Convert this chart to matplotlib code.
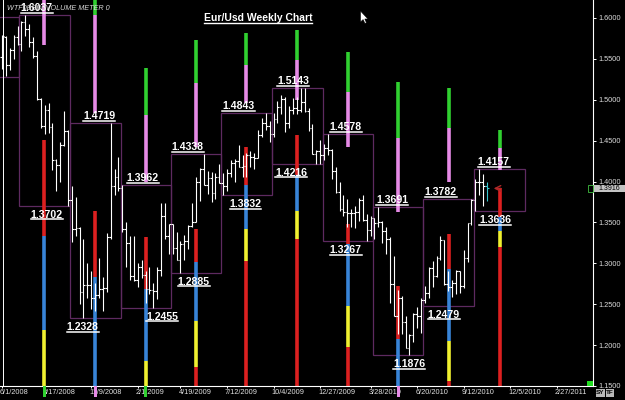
import matplotlib
matplotlib.use("Agg")
import matplotlib.pyplot as plt
import matplotlib.transforms as mtransforms
from matplotlib.collections import LineCollection
from matplotlib.lines import Line2D
from matplotlib.patches import Rectangle, Polygon
import numpy as np
import pandas as pd

# ---------------- data ----------------
first_week = "2008-06-01"

bar_open = [1.5525, 1.5770, 1.5420, 1.5610, 1.5770, 1.5680, 1.5950, 1.5860, 1.5700, 1.5540,
            1.5010, 1.4680, 1.4880, 1.4670, 1.4260, 1.4200, 1.4450, 1.4620, 1.3770, 1.3420,
            1.3430, 1.2650, 1.2730, 1.2740, 1.2580, 1.2610, 1.2690, 1.2700, 1.3320, 1.3950,
            1.4060, 1.3920, 1.3420, 1.3250, 1.2840, 1.2800, 1.2950, 1.2860, 1.2680, 1.2670,
            1.2660, 1.2920, 1.3580, 1.3330, 1.3480, 1.3190, 1.3040, 1.3240, 1.3270, 1.3460,
            1.3500, 1.4000, 1.4150, 1.3960, 1.4040, 1.3860, 1.4060, 1.3980, 1.3950, 1.4110,
            1.4230, 1.4250, 1.4180, 1.4190, 1.4330, 1.4300, 1.4290, 1.4570, 1.4710, 1.4680,
            1.4580, 1.4760, 1.4910, 1.5010, 1.4710, 1.4870, 1.4900, 1.4880, 1.4970, 1.4860,
            1.4650, 1.4340, 1.4370, 1.4320, 1.4410, 1.4380, 1.4130, 1.3870, 1.3670, 1.3630,
            1.3610, 1.3620, 1.3630, 1.3770, 1.3530, 1.3410, 1.3550, 1.3490, 1.3500, 1.3390,
            1.3300, 1.2750, 1.2360, 1.2570, 1.2280, 1.1960, 1.2120, 1.2380, 1.2360, 1.2550,
            1.2640, 1.2940, 1.2840, 1.3060, 1.3280, 1.2750, 1.2710, 1.2760, 1.2900, 1.2720,
            1.3060, 1.3490, 1.3780, 1.3990, 1.3990, 1.3950]
bar_high = [1.5790, 1.5780, 1.5630, 1.5790, 1.5900, 1.5960, 1.6037, 1.5920, 1.5770, 1.5590,
            1.5020, 1.4940, 1.4960, 1.4720, 1.4280, 1.4480, 1.4865, 1.4630, 1.3940, 1.3810,
            1.3450, 1.3300, 1.3000, 1.2900, 1.2760, 1.3070, 1.2830, 1.3370, 1.4719, 1.4150,
            1.4300, 1.3962, 1.3500, 1.3330, 1.3330, 1.3000, 1.3040, 1.2900, 1.2950, 1.2760,
            1.2950, 1.3740, 1.3740, 1.3480, 1.3480, 1.3380, 1.3270, 1.3350, 1.3470, 1.3740,
            1.4050, 1.4160, 1.4338, 1.4130, 1.4120, 1.4100, 1.4220, 1.4100, 1.4150, 1.4260,
            1.4280, 1.4450, 1.4330, 1.4350, 1.4370, 1.4350, 1.4630, 1.4780, 1.4843, 1.4740,
            1.4840, 1.4990, 1.5060, 1.5030, 1.4920, 1.5020, 1.5030, 1.5143, 1.5140, 1.4900,
            1.4700, 1.4390, 1.4510, 1.4458, 1.4578, 1.4400, 1.4180, 1.4000, 1.3830, 1.3790,
            1.3670, 1.3700, 1.3800, 1.3840, 1.3600, 1.3580, 1.3560, 1.3691, 1.3520, 1.3440,
            1.3320, 1.3090, 1.2670, 1.2600, 1.2350, 1.2140, 1.2390, 1.2470, 1.2570, 1.2720,
            1.2950, 1.3030, 1.3090, 1.3330, 1.3290, 1.2910, 1.2800, 1.2920, 1.2900, 1.3160,
            1.3490, 1.3782, 1.4030, 1.4157, 1.4090, 1.4000]
bar_low = [1.5370, 1.5290, 1.5360, 1.5500, 1.5670, 1.5600, 1.5780, 1.5640, 1.5510, 1.5000,
           1.4660, 1.4580, 1.4590, 1.4140, 1.3880, 1.4000, 1.4430, 1.3702, 1.3260, 1.3330,
           1.2500, 1.2328, 1.2580, 1.2440, 1.2420, 1.2580, 1.2420, 1.2650, 1.3300, 1.3830,
           1.3880, 1.3380, 1.2950, 1.2790, 1.2780, 1.2710, 1.2820, 1.2510, 1.2620, 1.2455,
           1.2560, 1.2850, 1.3300, 1.3110, 1.3120, 1.3040, 1.2885, 1.3040, 1.3180, 1.3450,
           1.3500, 1.3760, 1.3960, 1.3850, 1.3750, 1.3790, 1.3980, 1.3832, 1.3880, 1.4050,
           1.3990, 1.4180, 1.4050, 1.4050, 1.4180, 1.4150, 1.4290, 1.4550, 1.4630, 1.4480,
           1.4540, 1.4710, 1.4820, 1.4600, 1.4650, 1.4830, 1.4830, 1.4850, 1.4850, 1.4620,
           1.4340, 1.4220, 1.4216, 1.4260, 1.4330, 1.4030, 1.3860, 1.3640, 1.3580, 1.3440,
           1.3440, 1.3430, 1.3520, 1.3520, 1.3267, 1.3340, 1.3300, 1.3440, 1.3250, 1.3110,
           1.2520, 1.2350, 1.2140, 1.2140, 1.1960, 1.1876, 1.2040, 1.2210, 1.2150, 1.2520,
           1.2570, 1.2710, 1.2830, 1.3040, 1.2730, 1.2660, 1.2590, 1.2620, 1.2640, 1.2700,
           1.3020, 1.3470, 1.3636, 1.3830, 1.3700, 1.3760]
bar_close = [1.5775, 1.5420, 1.5610, 1.5770, 1.5680, 1.5950, 1.5860, 1.5700, 1.5540, 1.5010,
             1.4680, 1.4880, 1.4670, 1.4260, 1.4200, 1.4450, 1.4620, 1.3770, 1.3420, 1.3430,
             1.2650, 1.2730, 1.2740, 1.2580, 1.2610, 1.2690, 1.2700, 1.3320, 1.3950, 1.4060,
             1.3920, 1.3420, 1.3250, 1.2840, 1.2800, 1.2950, 1.2860, 1.2680, 1.2670, 1.2660,
             1.2920, 1.3580, 1.3330, 1.3480, 1.3190, 1.3040, 1.3240, 1.3270, 1.3460, 1.3500,
             1.4000, 1.4150, 1.3960, 1.4040, 1.3860, 1.4060, 1.3980, 1.3950, 1.4110, 1.4230,
             1.4250, 1.4180, 1.4190, 1.4330, 1.4300, 1.4290, 1.4570, 1.4710, 1.4680, 1.4580,
             1.4760, 1.4910, 1.5010, 1.4710, 1.4870, 1.4900, 1.4880, 1.4970, 1.4860, 1.4650,
             1.4340, 1.4370, 1.4320, 1.4410, 1.4380, 1.4130, 1.3870, 1.3670, 1.3630, 1.3610,
             1.3620, 1.3630, 1.3770, 1.3530, 1.3410, 1.3550, 1.3490, 1.3500, 1.3390, 1.3300,
             1.2750, 1.2360, 1.2570, 1.2280, 1.1960, 1.2120, 1.2380, 1.2360, 1.2550, 1.2640,
             1.2940, 1.2840, 1.3060, 1.3280, 1.2750, 1.2710, 1.2760, 1.2900, 1.2720, 1.3060,
             1.3490, 1.3780, 1.3990, 1.3990, 1.3950, 1.3916]

quarter_start = ["2008-04-01", "2008-07-01", "2008-10-01", "2009-01-01", "2009-04-01", "2009-07-01",
                 "2009-10-01", "2010-01-01", "2010-04-01", "2010-07-01", "2010-10-01"]
quarter_end = ["2008-07-01", "2008-10-01", "2009-01-01", "2009-04-01", "2009-07-01", "2009-10-01",
               "2010-01-01", "2010-04-01", "2010-07-01", "2010-10-01", "2011-01-01"]
quarter_high = [1.6012, 1.6037, 1.4719, 1.3962, 1.4338, 1.4843, 1.5143, 1.4578, 1.3691, 1.3782, 1.4157]
quarter_low = [1.5280, 1.3702, 1.2328, 1.2455, 1.2885, 1.3832, 1.4216, 1.3267, 1.1876, 1.2479, 1.3636]

# volume meter segments for quarters 2..11: (state, low price, high price)
meter_segments = [
    [("violet", 1.5671, 1.6220), ("red", 1.3329, 1.4512), ("blue", 1.2183, 1.3329), ("yellow", 1.1500, 1.2183)],
    [("green", 1.6037, 1.6220), ("violet", 1.4841, 1.6037), ("red", 1.2829, 1.3634), ("blue", 1.1500, 1.2829)],
    [("green", 1.4817, 1.5390), ("violet", 1.4000, 1.4817), ("red", 1.2683, 1.3317), ("blue", 1.1805, 1.2683),
     ("yellow", 1.1500, 1.1805)],
    [("green", 1.5207, 1.5732), ("violet", 1.4427, 1.5207), ("red", 1.3012, 1.3415), ("blue", 1.2293, 1.3012),
     ("yellow", 1.1732, 1.2293), ("red", 1.1500, 1.1732)],
    [("green", 1.5427, 1.5817), ("violet", 1.4963, 1.5427), ("red", 1.3963, 1.4427), ("blue", 1.3415, 1.3963),
     ("yellow", 1.3024, 1.3415), ("red", 1.1500, 1.3024)],
    [("green", 1.5488, 1.5854), ("violet", 1.5000, 1.5488), ("red", 1.4085, 1.4573), ("blue", 1.3634, 1.4085),
     ("yellow", 1.3293, 1.3634), ("red", 1.1500, 1.3293)],
    [("green", 1.5098, 1.5585), ("violet", 1.4427, 1.5098), ("red", 1.3232, 1.3476), ("blue", 1.2476, 1.3232),
     ("yellow", 1.1976, 1.2476), ("red", 1.1500, 1.1976)],
    [("green", 1.4537, 1.5220), ("violet", 1.3622, 1.4537), ("red", 1.2073, 1.2720), ("blue", 1.1500, 1.2073)],
    [("green", 1.4659, 1.5146), ("violet", 1.4000, 1.4659), ("red", 1.2927, 1.3354), ("blue", 1.2049, 1.2927),
     ("yellow", 1.1561, 1.2049), ("red", 1.1500, 1.1561)],
    [("green", 1.4415, 1.4634), ("violet", 1.4146, 1.4415), ("red", 1.3561, 1.3927), ("blue", 1.3390, 1.3561),
     ("yellow", 1.3195, 1.3390), ("red", 1.1500, 1.3195)],
]
# state markers shown under the time axis for some meters (meter index, state)
axis_markers = [(0, "green"), (1, "violet"), (2, "green"), (7, "violet")]

date_labels = ["6/1/2008", "8/17/2008", "11/9/2008", "2/1/2009", "4/19/2009", "7/12/2009", "10/4/2009",
               "12/27/2009", "3/28/2010", "6/20/2010", "9/12/2010", "12/5/2010", "2/27/2011"]
price_ticks = [1.15, 1.20, 1.25, 1.30, 1.35, 1.40, 1.45, 1.50, 1.55, 1.60]
current_price = 1.3916
title_text = "Eur/Usd Weekly Chart"
indicator_text = "WTF0BBD0VOLUME METER 0"

# ---------------- layout / style ----------------
W, H = 625, 400
PLOT_RIGHT, PLOT_BOTTOM = 593, 386
X0, PXW = 2.0, 3.88          # pixel of week 0, pixels per week
Y_TOP_PRICE = 1.6 + 18 / 820.0
Y_BOT_PRICE = 1.6 - (PLOT_BOTTOM - 18) / 820.0
meter_colors = {"green": "#30d030", "violet": "#e68ae6", "red": "#dc2020",
                "blue": "#3884d8", "yellow": "#f0f030"}
box_color = "#5e2a60"
# label center offsets (pixels) relative to quarter centre
high_dx = [-7.5, 4, -3, -8, -8, -4, -2, -6, -8, -6]
low_dx = [2.5, -12.5, 16.5, -2, -1, -6, -2, 11, -5, -4.5]
FONT = "Liberation Sans"
IDT = mtransforms.IdentityTransform()


def wk(d):
    return (pd.Timestamp(d) - pd.Timestamp(first_week)).days / 7.0


fig = plt.figure(figsize=(W / 100, H / 100), dpi=100, facecolor="black")
ax = fig.add_axes([0, (H - PLOT_BOTTOM) / H, PLOT_RIGHT / W, PLOT_BOTTOM / H])
ax.set_facecolor("black")
ax.set_xlim(-X0 / PXW, (PLOT_RIGHT - X0) / PXW)
ax.set_ylim(Y_BOT_PRICE, Y_TOP_PRICE)

# left chart border line
ax.axvline((3 - X0) / PXW, color="white", lw=0.7, zorder=3)

# quarter boxes
q_s = [wk(d) for d in quarter_start]
q_e = [wk(d) for d in quarter_end]
for s, e, hi, lo in zip(q_s, q_e, quarter_high, quarter_low):
    ax.add_patch(Rectangle((s, lo), e - s, hi - lo, fill=False, edgecolor=box_color, lw=0.9, zorder=1))

# volume meters
centers = [(q_s[k] + q_e[k]) / 2 for k in range(1, len(q_s))]
for c, segs in zip(centers, meter_segments):
    for state, lo, hi in segs:
        ax.vlines(c, lo, hi, color=meter_colors[state], lw=2.6, zorder=2, capstyle="butt")

# OHLC bars
n = len(bar_open)
segs, cols = [], []
for i in range(n):
    col = "#35c8d0" if i == n - 1 else "white"
    segs += [[(i, bar_low[i]), (i, bar_high[i])],
             [(i - 0.45, bar_open[i]), (i, bar_open[i])],
             [(i, bar_close[i]), (i + 0.45, bar_close[i])]]
    cols += [col] * 3
ax.add_collection(LineCollection(segs, colors=cols, linewidths=0.8, zorder=3))

# axes styling
for sp in ["top", "left"]:
    ax.spines[sp].set_visible(False)
for sp in ["right", "bottom"]:
    ax.spines[sp].set_color("white")
    ax.spines[sp].set_linewidth(0.8)
ax.yaxis.tick_right()
ax.set_yticks(price_ticks)
ax.set_yticklabels([f"{p:.4f}" for p in price_ticks], fontsize=5.3, family=FONT)
ax.tick_params(axis="y", direction="out", length=2.2, width=0.7, colors="white",
               labelcolor="#dcdcdc", pad=2)
tick_w = [wk(pd.to_datetime(s, format="%m/%d/%Y")) for s in date_labels]
ax.set_xticks(tick_w)
ax.set_xticklabels([])
ax.tick_params(axis="x", direction="out", length=1.5, width=0.7, colors="white")
xtr = mtransforms.offset_copy(ax.get_xaxis_transform(), fig=fig, x=-2, y=-3, units="dots")
for w, s in zip(tick_w, date_labels):
    ax.text(w, 0, s, transform=xtr, ha="left", va="top", fontsize=5.3, color="#e0e0e0",
            family=FONT, clip_on=False)

# meter state markers under the axis
for mi, state in axis_markers:
    xd = ax.transData.transform((centers[mi], 0))[0]
    fig.add_artist(Rectangle((xd - 1.5, H - 397), 3, 11, transform=IDT,
                             facecolor=meter_colors[state], edgecolor="none"))

# quarter high/low labels
underlines = []
for k in range(1, len(quarter_high)):
    c = centers[k - 1]
    th = ax.text(c, quarter_high[k], f"{quarter_high[k]:.4f}", ha="center", va="baseline",
                 fontsize=7.6, fontweight="bold", color="white", family=FONT, zorder=5,
                 transform=mtransforms.offset_copy(ax.transData, fig=fig, x=high_dx[k - 1], y=4, units="dots"))
    underlines.append((th, quarter_high[k], 2))
    tl = ax.text(c, quarter_low[k], f"{quarter_low[k]:.4f}", ha="center", va="baseline",
                 fontsize=7.6, fontweight="bold", color="white", family=FONT, zorder=5,
                 transform=mtransforms.offset_copy(ax.transData, fig=fig, x=low_dx[k - 1], y=-12, units="dots"))
    underlines.append((tl, quarter_low[k], -13.5))

# title and indicator name
tt = fig.text(258 / W, (H - 21) / H, title_text, ha="center", va="baseline", fontsize=7.5,
              fontweight="bold", color="white", family=FONT)
fig.text(7 / W, (H - 9.5) / H, indicator_text, ha="left", va="baseline", fontsize=5.2,
         style="italic", color="#d8d8d8", family=FONT, zorder=4)

# current price arrow + label
ax.annotate("", xy=(wk("2010-10-24") + 1.0, current_price), xytext=(wk("2010-10-24") + 4.3, current_price),
            arrowprops=dict(arrowstyle="->", color="#b02828", lw=1.0), zorder=6)
yd = ax.transData.transform((0, current_price))[1]
fig.add_artist(Rectangle((594, yd - 3.8), 31, 7.6, transform=IDT,
                         facecolor="#c4c4c4", edgecolor="none"))
fig.text(609.5 / W, yd / H, f"{current_price:.4f}", ha="center", va="center", fontsize=5.0,
         color="black", family=FONT)
fig.add_artist(Rectangle((587.5, yd - 3.3), 5.5, 6.6, transform=IDT,
                         facecolor="black", edgecolor="#40c040", lw=0.6))

# small markers
fig.add_artist(Rectangle((587, H - 386), 6, 5, transform=IDT,
                         facecolor="#22dd22", edgecolor="none"))
for lbl, xx in [("SY", 596), ("TF", 605.5)]:
    fig.add_artist(Rectangle((xx, H - 397), 8.5, 8, transform=IDT,
                             facecolor="#b8b8b8", edgecolor="none"))
    fig.text((xx + 4.25) / W, (H - 393) / H, lbl, ha="center", va="center", fontsize=4.6,
             color="black", fontweight="bold", family=FONT)

# mouse cursor
cx, cy = 360.5, H - 11
cursor = [(0, 0), (0, -11), (2.6, -8.6), (4.4, -12.4), (6, -11.7), (4.3, -8), (7.5, -8)]
fig.add_artist(Polygon([(cx + a, cy + b) for a, b in cursor], closed=True,
                       transform=IDT, facecolor="white", edgecolor="black", lw=0.4))

# underlines
fig.canvas.draw()
r = fig.canvas.get_renderer()
for t, price, off in underlines:
    bb = t.get_window_extent(r)
    y = ax.transData.transform((0, price))[1] + off
    fig.add_artist(Line2D([bb.x0, bb.x1], [y, y], transform=IDT, color="white", lw=1.1))
bb = tt.get_window_extent(r)
fig.add_artist(Line2D([bb.x0, bb.x1], [H - 22.5, H - 22.5], transform=IDT, color="white", lw=1.0))

fig.savefig("out.png", dpi=100, facecolor="black")
